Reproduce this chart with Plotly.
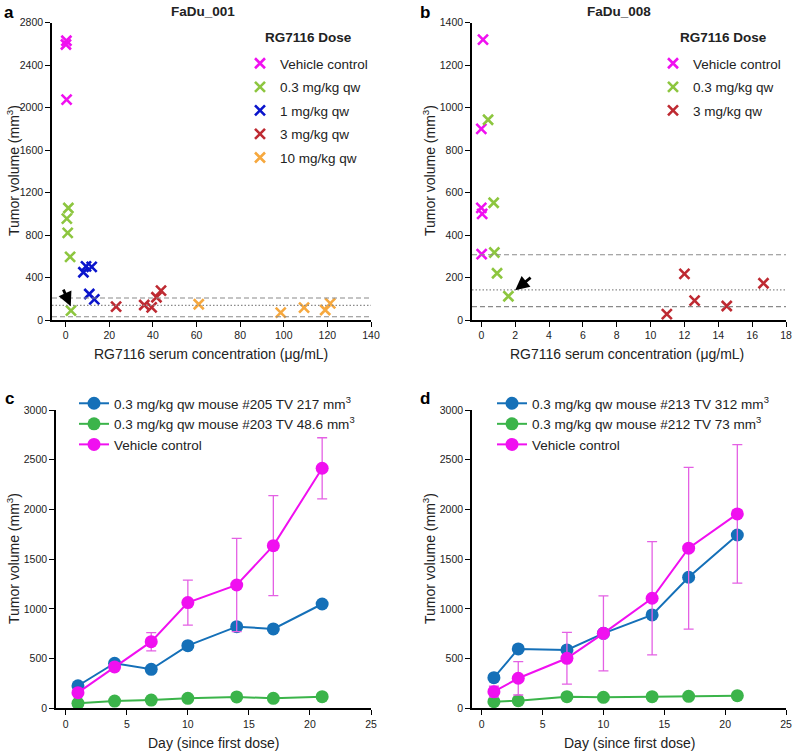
import plotly.graph_objects as go

# ---------------- Data ----------------
# Panel a (FaDu_001): serum concentration (ug/mL) vs tumor volume (mm3)
a_groups = ["Vehicle control", "0.3 mg/kg qw", "1 mg/kg qw", "3 mg/kg qw", "10 mg/kg qw"]
a_vehicle_x = [0.3, 0.1, 0.4]
a_vehicle_y = [2630, 2595, 2075]
a_03_x = [1.2, 0.5, 0.9, 2.0, 2.4]
a_03_y = [1055, 955, 820, 595, 88]
a_1_x = [8.1, 9.3, 11.9, 10.8, 13.1]
a_1_y = [450, 505, 500, 245, 195]
a_3_x = [23.1, 36.0, 39.4, 41.6, 43.7]
a_3_y = [126, 141, 119, 214, 277]
a_10_x = [61.0, 98.6, 109.3, 119.0, 121.3]
a_10_y = [148, 69, 116, 94, 157]
a_ref_dash = [207, 31]
a_ref_dot = [138]

# Panel b (FaDu_008)
b_groups = ["Vehicle control", "0.3 mg/kg qw", "3 mg/kg qw"]
b_vehicle_x = [0.1, 0.0, 0.0, 0.05, 0.02]
b_vehicle_y = [1320, 900, 528, 500, 310]
b_03_x = [0.4, 0.73, 0.77, 0.93, 1.6]
b_03_y = [943, 552, 318, 220, 112]
b_3_x = [10.96, 12.0, 12.6, 14.5, 16.67]
b_3_y = [28, 217, 91, 66, 173]
b_ref_dash = [307, 63]
b_ref_dot = [142]

# Panel c (growth curves FaDu_001)
c_days = [1, 4, 7, 10, 14, 17, 21]
c_205 = [227, 453, 392, 630, 821, 798, 1049]
c_203 = [50, 73, 83, 100, 114, 100, 117]
c_vehicle = [157, 416, 670, 1063, 1240, 1636, 2414]
c_vehicle_err = [0, 0, 92, 227, 468, 503, 307]
c_names = ["0.3 mg/kg qw mouse #205 TV 217 mm<sup>3</sup>",
           "0.3 mg/kg qw mouse #203 TV 48.6 mm<sup>3</sup>",
           "Vehicle control"]

# Panel d (growth curves FaDu_008)
d_days = [1, 3, 7, 10, 14, 17, 21]
d_213 = [308, 597, 587, 754, 939, 1318, 1743]
d_212 = [67, 77, 117, 110, 117, 120, 127]
d_vehicle = [167, 302, 503, 754, 1107, 1610, 1955]
d_vehicle_err = [55, 168, 260, 377, 570, 813, 696]
d_names = ["0.3 mg/kg qw mouse #213 TV 312 mm<sup>3</sup>",
           "0.3 mg/kg qw mouse #212 TV 73 mm<sup>3</sup>",
           "Vehicle control"]

# ---------------- Styling ----------------
W, H = 793, 752
FONT = "Liberation Sans, Arial, sans-serif"
TXT = "#222222"
MAG = "#F010F0"
GRN_A = "#8DC63F"
BLU_A = "#0A14CC"
RED_A = "#BE2A32"
ORA_A = "#F6A83E"
BLU_C = "#1570B8"
GRN_C = "#3BB44A"
ERR = "#E460E4"


def px(x):
    return x / W


def py(y):
    return 1 - y / H


fig = go.Figure()

scatter_sets_a = [
    (a_groups[0], a_vehicle_x, a_vehicle_y, MAG),
    (a_groups[1], a_03_x, a_03_y, GRN_A),
    (a_groups[2], a_1_x, a_1_y, BLU_A),
    (a_groups[3], a_3_x, a_3_y, RED_A),
    (a_groups[4], a_10_x, a_10_y, ORA_A),
]
for name, xs, ys, col in scatter_sets_a:
    fig.add_trace(go.Scatter(
        x=xs, y=ys, mode="markers", name=name, xaxis="x", yaxis="y",
        legend="legend", legendgroup="a" + name,
        marker=dict(symbol="x-thin", size=10, line=dict(color=col, width=2.6)),
    ))

scatter_sets_b = [
    (b_groups[0], b_vehicle_x, b_vehicle_y, MAG),
    (b_groups[1], b_03_x, b_03_y, GRN_A),
    (b_groups[2], b_3_x, b_3_y, RED_A),
]
for name, xs, ys, col in scatter_sets_b:
    fig.add_trace(go.Scatter(
        x=xs, y=ys, mode="markers", name=name, xaxis="x2", yaxis="y2",
        legend="legend2", legendgroup="b" + name,
        marker=dict(symbol="x-thin", size=10, line=dict(color=col, width=2.6)),
    ))

# Panel c
for name, ys, col, err in [(c_names[0], c_205, BLU_C, None),
                           (c_names[1], c_203, GRN_C, None),
                           (c_names[2], c_vehicle, MAG, c_vehicle_err)]:
    fig.add_trace(go.Scatter(
        x=c_days, y=ys, mode="lines+markers", name=name, xaxis="x3", yaxis="y3",
        legend="legend3",
        line=dict(color=col, width=2), marker=dict(color=col, size=13),
        error_y=(dict(type="data", array=err, visible=True, color=ERR,
                      thickness=1.3, width=5) if err else None),
    ))

# Panel d
for name, ys, col, err in [(d_names[0], d_213, BLU_C, None),
                           (d_names[1], d_212, GRN_C, None),
                           (d_names[2], d_vehicle, MAG, d_vehicle_err)]:
    fig.add_trace(go.Scatter(
        x=d_days, y=ys, mode="lines+markers", name=name, xaxis="x4", yaxis="y4",
        legend="legend4",
        line=dict(color=col, width=2), marker=dict(color=col, size=13),
        error_y=(dict(type="data", array=err, visible=True, color=ERR,
                      thickness=1.3, width=5) if err else None),
    ))

axis_common = dict(
    showline=True, linecolor="black", linewidth=1.5, ticks="outside",
    ticklen=5, tickwidth=1.2, tickcolor="black", showgrid=False, zeroline=False,
    automargin=False,
    tickfont=dict(family=FONT, size=10.5, color=TXT),
)

top_dom = [py(320), py(22.7)]
bot_dom = [py(708.3), py(410)]

leg_font = dict(family=FONT, size=13.5, color=TXT)

fig.update_layout(
    width=W, height=H, margin=dict(l=0, r=0, t=0, b=0, autoexpand=False),
    plot_bgcolor="white", paper_bgcolor="white",
    font=dict(family=FONT, color=TXT),
    xaxis=dict(axis_common, domain=[px(52), px(371)], range=[-6.3, 140],
               tickvals=[0, 20, 40, 60, 80, 100, 120, 140], anchor="y"),
    yaxis=dict(axis_common, domain=top_dom, range=[0, 2800],
               tickvals=[0, 400, 800, 1200, 1600, 2000, 2400, 2800], anchor="x"),
    xaxis2=dict(axis_common, domain=[px(472), px(786)], range=[-0.55, 18],
                tickvals=list(range(0, 19, 2)), anchor="y2"),
    yaxis2=dict(axis_common, domain=top_dom, range=[0, 1400],
                tickvals=[0, 200, 400, 600, 800, 1000, 1200, 1400], anchor="x2"),
    xaxis3=dict(axis_common, domain=[px(56), px(371)], range=[-0.8, 25],
                tickvals=[0, 5, 10, 15, 20, 25], anchor="y3"),
    yaxis3=dict(axis_common, domain=bot_dom, range=[0, 3000],
                tickvals=[0, 500, 1000, 1500, 2000, 2500, 3000], anchor="x3"),
    xaxis4=dict(axis_common, domain=[px(472), px(786)], range=[-0.8, 25],
                tickvals=[0, 5, 10, 15, 20, 25], anchor="y4"),
    yaxis4=dict(axis_common, domain=bot_dom, range=[0, 3000],
                tickvals=[0, 500, 1000, 1500, 2000, 2500, 3000], anchor="x4"),
    legend=dict(x=px(240), y=py(48), xanchor="left", yanchor="top",
                bgcolor="rgba(0,0,0,0)", tracegroupgap=3, font=leg_font),
    legend2=dict(x=px(653), y=py(48), xanchor="left", yanchor="top",
                 bgcolor="rgba(0,0,0,0)", tracegroupgap=3, font=leg_font),
    legend3=dict(x=px(74), y=py(388), xanchor="left", yanchor="top",
                 bgcolor="rgba(0,0,0,0)", tracegroupgap=0, font=leg_font),
    legend4=dict(x=px(492), y=py(388), xanchor="left", yanchor="top",
                 bgcolor="rgba(0,0,0,0)", tracegroupgap=0, font=leg_font),
)

# Reference lines
shapes = []
for xr, yr, dash_vals, dot_vals in [("x", "y", a_ref_dash, a_ref_dot),
                                     ("x2", "y2", b_ref_dash, b_ref_dot)]:
    for v in dash_vals:
        shapes.append(dict(type="line", xref=xr + " domain", yref=yr, x0=0, x1=1,
                           y0=v, y1=v, line=dict(color="#8a8a8a", width=1.1, dash="5px,3px")))
    for v in dot_vals:
        shapes.append(dict(type="line", xref=xr + " domain", yref=yr, x0=0, x1=1,
                           y0=v, y1=v, line=dict(color="#8a8a8a", width=1.1, dash="1.5px,2px")))
fig.update_layout(shapes=shapes)

ann = []
# arrows
ann.append(dict(x=2.3, y=130, xref="x", yref="y", ax=-1.4, ay=300, axref="x", ayref="y",
                showarrow=True, arrowhead=2, arrowsize=1, arrowwidth=2.8,
                arrowcolor="black", text=""))
ann.append(dict(x=2.0, y=140, xref="x2", yref="y2", ax=3.0, ay=205, axref="x2", ayref="y2",
                showarrow=True, arrowhead=2, arrowsize=1, arrowwidth=2.8,
                arrowcolor="black", text=""))

# panel letters and titles
for t, x, y in [("a", 9, 13), ("b", 425, 13), ("c", 9, 398), ("d", 425, 398)]:
    ann.append(dict(text="<b>%s</b>" % t, x=px(x), y=py(y), xref="paper", yref="paper",
                    xanchor="center", yanchor="middle", showarrow=False,
                    font=dict(family=FONT, size=17, color="black")))
for t, x in [("FaDu_001", 203), ("FaDu_008", 619)]:
    ann.append(dict(text="<b>%s</b>" % t, x=px(x), y=py(12), xref="paper", yref="paper",
                    xanchor="center", yanchor="middle", showarrow=False,
                    font=dict(family=FONT, size=13.5, color=TXT)))
for x in [263, 678]:
    ann.append(dict(text="<b>RG7116 Dose</b>", x=px(x), y=py(37.5), xref="paper", yref="paper",
                    xanchor="left", yanchor="middle", showarrow=False,
                    font=dict(family=FONT, size=13.5, color=TXT)))

# axis titles
ytitle = "Tumor volume (mm<sup>3</sup>)"
for x, y in [(13, 171), (429, 171), (13, 559), (429, 559)]:
    ann.append(dict(text=ytitle, x=px(x), y=py(y), xref="paper", yref="paper",
                    xanchor="center", yanchor="middle", textangle=-90, showarrow=False,
                    font=dict(family=FONT, size=14, color=TXT)))
for t, x, y in [("RG7116 serum concentration (μg/mL)", 211, 354),
                ("RG7116 serum concentration (μg/mL)", 627, 354),
                ("Day (since first dose)", 213, 743),
                ("Day (since first dose)", 629, 743)]:
    ann.append(dict(text=t, x=px(x), y=py(y), xref="paper", yref="paper",
                    xanchor="center", yanchor="middle", showarrow=False,
                    font=dict(family=FONT, size=14, color=TXT)))
fig.update_layout(annotations=ann)

fig.write_html("out.html", config={"displayModeBar": False},
               post_script="document.body.style.margin='0';document.body.style.padding='0';")
